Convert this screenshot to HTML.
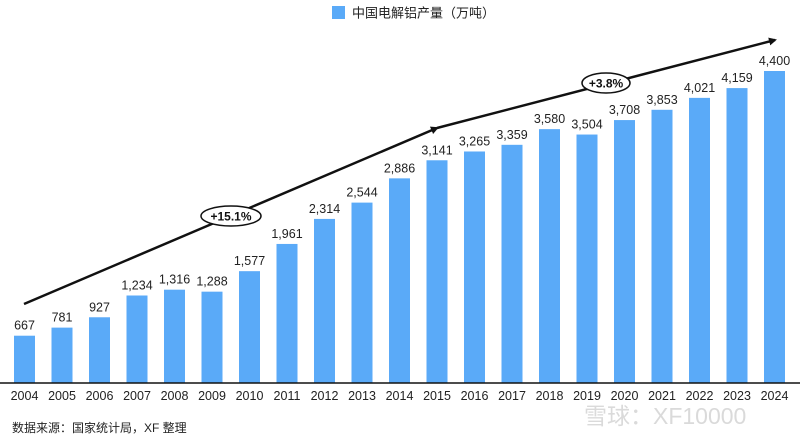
<!DOCTYPE html>
<html><head><meta charset="utf-8"><style>
body{margin:0;background:#fff;}
svg{display:block;font-family:"Liberation Sans","Noto Sans CJK SC",sans-serif;}
</style></head><body>
<svg id="chart" width="800" height="443">
<g>
<rect x="332" y="6" width="13" height="13" fill="#5aaaf8"/>
<text x="352" y="17.5" font-size="13" fill="#222">中国电解铝产量（万吨）</text>
</g>
<g id="bars"></g>
<line x1="0" y1="383" x2="800" y2="383" stroke="#111" stroke-width="1.5"/>
<defs><marker id="ah" markerWidth="8" markerHeight="8" refX="6" refY="4" orient="auto" markerUnits="userSpaceOnUse"><path d="M0,0 L8,4 L0,8 z" fill="#111"/></marker></defs>
<line x1="24" y1="304" x2="437" y2="128" stroke="#111" stroke-width="2.5" marker-end="url(#ah)"/>
<line x1="437" y1="128" x2="775" y2="40" stroke="#111" stroke-width="2.5" marker-end="url(#ah)"/>
<ellipse cx="231" cy="216" rx="30" ry="10" fill="#fff" stroke="#111" stroke-width="1.5"/>
<text x="231" y="220.5" font-size="12" font-weight="bold" text-anchor="middle" fill="#111">+15.1%</text>
<ellipse cx="606" cy="83" rx="24" ry="10" fill="#fff" stroke="#111" stroke-width="1.5"/>
<text x="606" y="87.5" font-size="12" font-weight="bold" text-anchor="middle" fill="#111">+3.8%</text>
<text x="12" y="432" font-size="12" fill="#222">数据来源：国家统计局，XF 整理</text>
<text x="584" y="424" font-size="23" fill="#dadada">雪球：XF10000</text>
</svg>
<script>
const years=["2004","2005","2006","2007","2008","2009","2010","2011","2012","2013","2014","2015","2016","2017","2018","2019","2020","2021","2022","2023","2024"];
const values=[667,781,927,1234,1316,1288,1577,1961,2314,2544,2886,3141,3265,3359,3580,3504,3708,3853,4021,4159,4400];
const x0=14,step=37.5,bw=21,base=383,scale=312/4400;
const xs=i=>x0+i*step;
const ys=v=>base-v*scale;
const g=document.getElementById('bars');
const NS='http://www.w3.org/2000/svg';
values.forEach((v,i)=>{
 const r=document.createElementNS(NS,'rect');
 r.setAttribute('x',xs(i));r.setAttribute('y',ys(v));r.setAttribute('width',bw);r.setAttribute('height',base-ys(v));r.setAttribute('fill','#5aaaf8');
 
 
 g.appendChild(r);
 const t=document.createElementNS(NS,'text');
 t.setAttribute('x',xs(i)+bw/2);t.setAttribute('y',ys(v)-6);t.setAttribute('font-size','12.5');t.setAttribute('text-anchor','middle');t.setAttribute('fill','#222');
 t.textContent=v.toLocaleString('en-US');
 
 
 g.appendChild(t);
 const l=document.createElementNS(NS,'text');
 l.setAttribute('x',xs(i)+bw/2);l.setAttribute('y',400);l.setAttribute('font-size','12.5');l.setAttribute('text-anchor','middle');l.setAttribute('fill','#222');
 l.textContent=years[i];
 
 
 g.appendChild(l);
});
</script>
</body></html>
